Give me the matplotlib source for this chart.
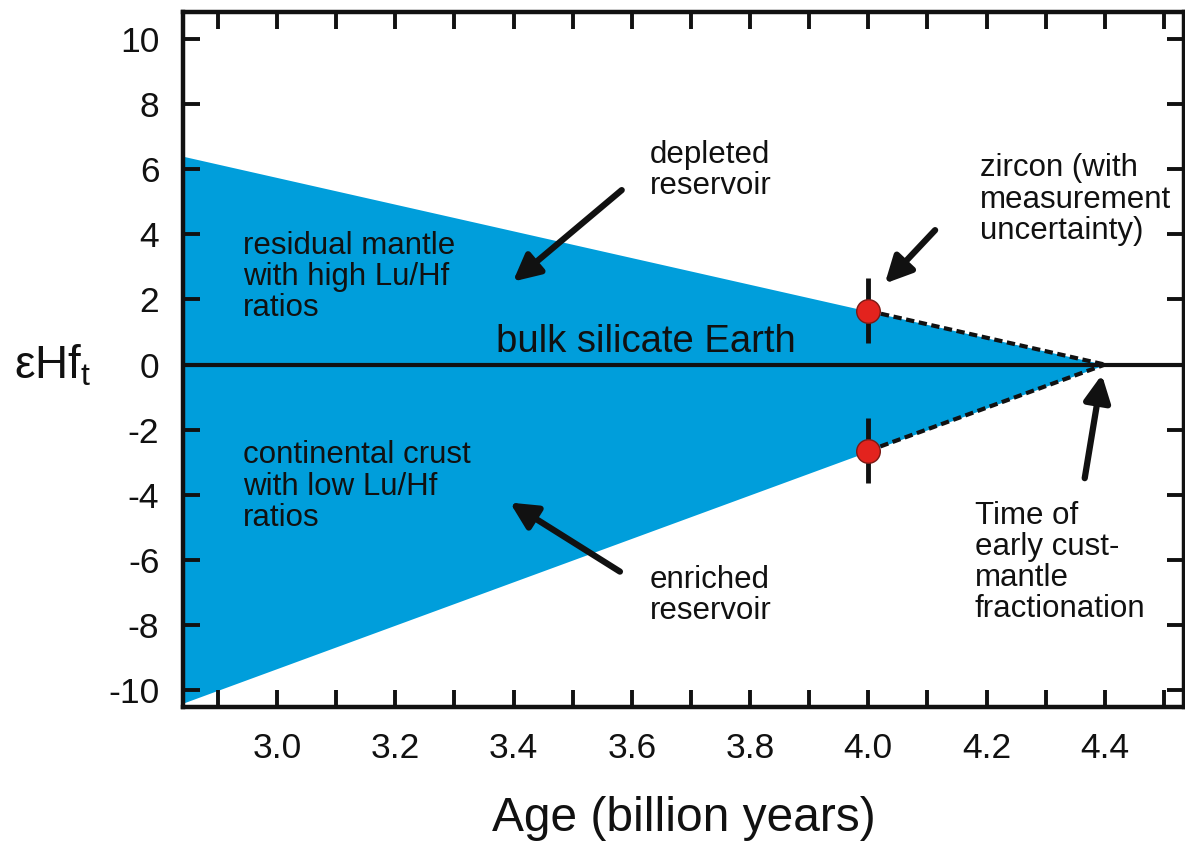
import matplotlib
matplotlib.use("Agg")
import numpy as np
import matplotlib.pyplot as plt

plt.rcParams['font.family'] = ['Liberation Sans', 'DejaVu Sans']
plt.rcParams['mathtext.fontset'] = 'custom'
plt.rcParams['mathtext.rm'] = 'Liberation Sans'

# --- data ---
x_left = 2.841
x_apex = 4.4
fill_x = [x_left, x_apex]
fill_upper = [6.4, 0.0]
fill_lower = [-10.4, 0.0]

zircon_age = [4.0, 4.0]
zircon_ehf = [1.65, -2.65]
zircon_err = [1.0, 1.0]

xticks = [2.9, 3.0, 3.1, 3.2, 3.3, 3.4, 3.5, 3.6, 3.7, 3.8, 3.9, 4.0, 4.1, 4.2, 4.3, 4.4, 4.5]
xticklabels = ['', '3.0', '', '3.2', '', '3.4', '', '3.6', '', '3.8', '', '4.0', '', '4.2', '', '4.4', '']
yticks = [-10, -8, -6, -4, -2, 0, 2, 4, 6, 8, 10]

blue = '#009edb'

fig = plt.figure(figsize=(11.85, 8.42), dpi=100)
ax = fig.add_axes([0.1544, 0.1603, 0.8448, 0.8254])

# blue wedge
ax.fill_between(fill_x, fill_lower, fill_upper, color=blue, lw=0, zorder=1)

# bulk silicate earth line
ax.axhline(0, color='#111111', lw=3, zorder=2)

# dashed lines from zircons to apex
for y in zircon_ehf:
    ax.plot([zircon_age[0], x_apex], [y, 0], color='#111111', lw=3,
            ls=(0, (2.0, 1.1)), zorder=3)

# zircons with uncertainty
ax.errorbar(zircon_age, zircon_ehf, yerr=zircon_err, fmt='o', ms=17,
            mfc='#e3231e', mec='#7a1a15', mew=1.0, ecolor='#111111',
            elinewidth=3.5, capsize=0, zorder=4)

ax.set_xlim(x_left, 4.534)
ax.set_ylim(-10.52, 10.83)

ax.set_xticks(xticks)
ax.set_xticklabels(xticklabels)
ax.set_yticks(yticks)
ax.set_yticklabels([str(v) for v in yticks])
ax.tick_params(direction='in', length=12, width=2.8, color='#111111',
               labelsize=25.5, top=True, right=True, labelcolor='#111111')
ax.tick_params(axis='x', pad=18)
ax.tick_params(axis='y', pad=17)
for s in ax.spines.values():
    s.set_linewidth(3.2)
    s.set_color('#111111')

ax.set_xlabel('Age (billion years)', fontsize=34.5, color='#111111', labelpad=22)
fig.text(0.012, 0.566, 'εHf$_{\\mathregular{t}}$', fontsize=33, color='#111111',
         va='center', ha='left')

# text labels
tkw = dict(fontsize=22.5, color='#111111', linespacing=1.05, va='center', ha='left')
ax.text(2.942, 2.70, 'residual mantle\nwith high Lu/Hf\nratios', **tkw)
ax.text(2.942, -3.75, 'continental crust\nwith low Lu/Hf\nratios', **tkw)
ax.text(3.624, 0.68, 'bulk silicate Earth', fontsize=27.5, color='#111111',
        ha='center', va='center')

akw = dict(arrowstyle='-|>', lw=4.5, color='#111111', mutation_scale=40,
           shrinkA=0, shrinkB=0)
ax.annotate('', xy=(3.399, 2.55), xytext=(3.583, 5.36), arrowprops=akw)
ax.text(3.631, 5.96, 'depleted\nreservoir', **tkw)

ax.annotate('', xy=(3.394, -4.24), xytext=(3.580, -6.36), arrowprops=akw)
ax.text(3.631, -7.10, 'enriched\nreservoir', **tkw)

ax.annotate('', xy=(4.028, 2.49), xytext=(4.113, 4.13), arrowprops=akw)
ax.text(4.189, 5.07, 'zircon (with\nmeasurement\nuncertainty)', **tkw)

ax.annotate('', xy=(4.395, -0.31), xytext=(4.366, -3.49), arrowprops=akw)
ax.text(4.180, -6.08, 'Time of\nearly cust-\nmantle\nfractionation', **tkw)

fig.savefig('out.png', dpi=100)
